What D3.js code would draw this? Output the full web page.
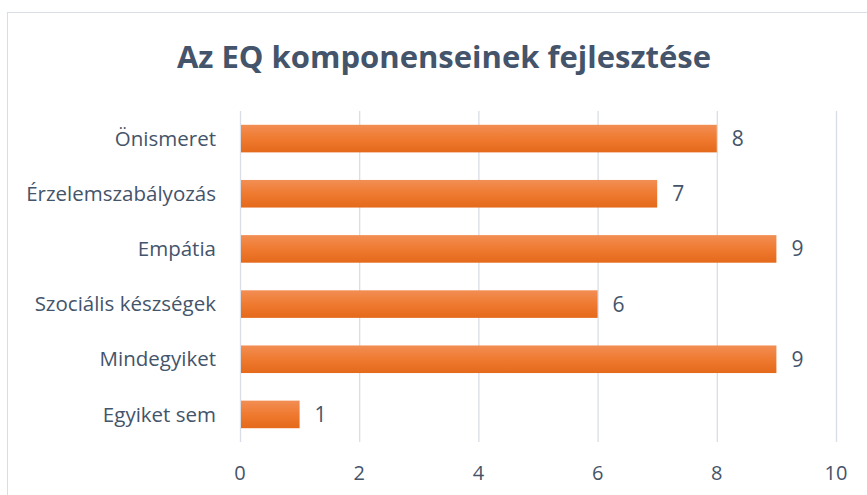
<!DOCTYPE html>
<html lang="hu">
<head>
<meta charset="UTF-8" />
<title>Az EQ komponenseinek fejlesztése</title>
<script src="https://cdn.jsdelivr.net/npm/d3@7"></script>
<style>
  body { margin: 0; background: #fff; }
  svg { display: block; font-family: "Open Sans", "Noto Sans", sans-serif; }
</style>
</head>
<body>
<script>
const categories = ["Önismeret", "Érzelemszabályozás", "Empátia", "Szociális készségek", "Mindegyiket", "Egyiket sem"];
const values = [8, 7, 9, 6, 9, 1];
const xTicks = [0, 2, 4, 6, 8, 10];
const title = "Az EQ komponenseinek fejlesztése";

const W = 867, H = 495;
const textColor = "#44546A";
const svg = d3.select("body").append("svg").attr("width", W).attr("height", H);

const defs = svg.append("defs");
const grad = defs.append("linearGradient").attr("id", "barGrad")
  .attr("x1", 0).attr("y1", 0).attr("x2", 0).attr("y2", 1);
grad.append("stop").attr("offset", "0%").attr("stop-color", "#F28E54");
grad.append("stop").attr("offset", "50%").attr("stop-color", "#EF7A30");
grad.append("stop").attr("offset", "100%").attr("stop-color", "#E4691B");

// chart frame
svg.append("rect")
  .attr("x", 7.5).attr("y", 12.5).attr("width", W + 10).attr("height", H + 10)
  .attr("fill", "#fff").attr("stroke", "#D9DEE6").attr("stroke-width", 1);

svg.append("text")
  .attr("x", 444).attr("y", 68)
  .attr("text-anchor", "middle")
  .attr("fill", textColor)
  .attr("font-size", 31).attr("font-weight", "bold")
  .text(title);

const x = d3.scaleLinear().domain([0, 10]).range([240, 836]);
const y = d3.scaleBand().domain(categories).range([111, 442]).paddingInner(0.5).paddingOuter(0.25);

// gridlines
svg.append("g").selectAll("line").data(xTicks).join("line")
  .attr("x1", d => x(d) + 0.5).attr("x2", d => x(d) + 0.5)
  .attr("y1", 111).attr("y2", 442)
  .attr("stroke", "#D9DEE6").attr("stroke-width", 1.3);

// x axis labels
svg.append("g").selectAll("text").data(xTicks).join("text")
  .attr("x", d => x(d)).attr("y", 480)
  .attr("text-anchor", "middle")
  .attr("fill", textColor).attr("font-size", 20)
  .text(d => d);

// category labels
svg.append("g").selectAll("text").data(categories).join("text")
  .attr("x", 216).attr("y", d => y(d) + y.bandwidth() / 2)
  .attr("dy", "0.35em")
  .attr("text-anchor", "end")
  .attr("fill", textColor).attr("font-size", 20.5)
  .text(d => d);

// bars
svg.append("g").selectAll("rect").data(values).join("rect")
  .attr("x", x(0) + 1)
  .attr("y", (d, i) => y(categories[i]))
  .attr("width", d => x(d) - x(0) - 1)
  .attr("height", y.bandwidth())
  .attr("fill", "url(#barGrad)");

// value labels
svg.append("g").selectAll("text").data(values).join("text")
  .attr("x", d => x(d) + 15)
  .attr("y", (d, i) => y(categories[i]) + y.bandwidth() / 2)
  .attr("dy", "0.36em")
  .attr("fill", textColor).attr("font-size", 21)
  .text(d => d);
</script>
</body>
</html>
